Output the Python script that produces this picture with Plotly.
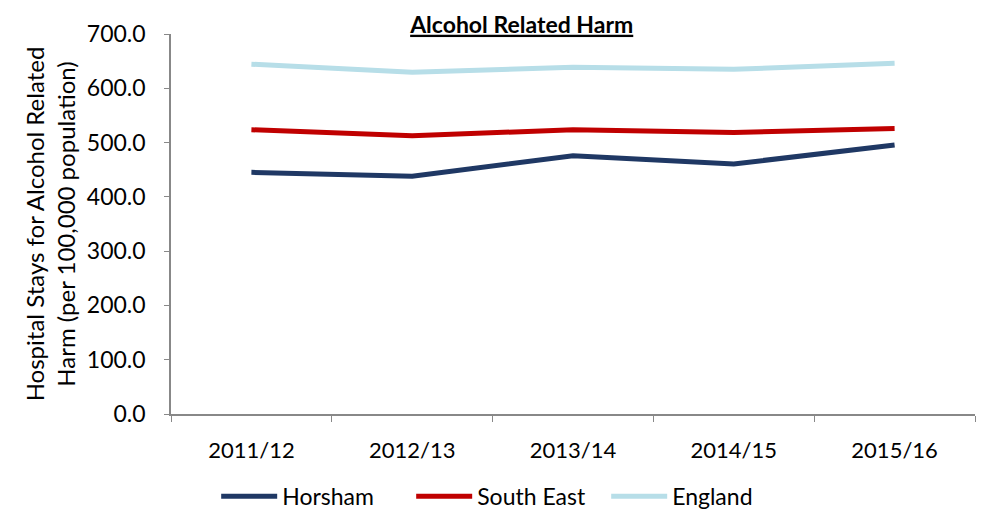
import plotly.graph_objects as go

years = ['2011/12', '2012/13', '2013/14', '2014/15', '2015/16']
horsham = [445.2, 437.8, 475.8, 460.6, 495.5]
south_east = [523.6, 512.6, 523.6, 518.7, 526.0]
england = [644.3, 629.6, 638.8, 635.1, 645.9]

font_name = 'Lato'

fig = go.Figure()
fig.add_trace(go.Scatter(x=years, y=horsham, name='Horsham', mode='lines',
                         line=dict(color='#1F3864', width=5)))
fig.add_trace(go.Scatter(x=years, y=south_east, name='South East', mode='lines',
                         line=dict(color='#C00000', width=5)))
fig.add_trace(go.Scatter(x=years, y=england, name='England', mode='lines',
                         line=dict(color='#B7DEE8', width=5)))

# the page body adds a small offset, so margins are shifted to compensate
fig.update_layout(
    width=986, height=522,
    margin=dict(l=163, r=19, t=26, b=108),
    plot_bgcolor='white', paper_bgcolor='white',
    font=dict(family=font_name, size=22, color='black'),
    title=dict(text='<b><u>Alcohol Related Harm</u></b>', x=0.521, xanchor='center',
               y=0.968, yanchor='middle', font=dict(size=23)),
    showlegend=True,
    legend=dict(orientation='h', x=0.42, xanchor='center', y=-0.16, yanchor='top',
                font=dict(size=23), itemwidth=56, entrywidth=124,
                entrywidthmode='pixels'),
    xaxis=dict(type='category', range=[-0.5, 4.5], automargin=False,
               showline=True, linecolor='#888888', linewidth=1.5,
               ticks='outside', tickson='boundaries', ticklen=6, tickcolor='#888888',
               ticklabelstandoff=16, showgrid=False, tickfont=dict(size=22)),
    yaxis=dict(range=[0, 700], dtick=100, tickformat='.1f', automargin=False,
               showline=True, linecolor='#888888', linewidth=1.5, ticks='outside',
               ticklen=5, tickcolor='#888888', showgrid=False, zeroline=False,
               ticklabelstandoff=14, tickfont=dict(size=23),
               title=dict(text='Hospital Stays for Alcohol Related<br>Harm (per 100,000 population)',
                          font=dict(size=24), standoff=4)),
)

fig.write_html("out.html")
